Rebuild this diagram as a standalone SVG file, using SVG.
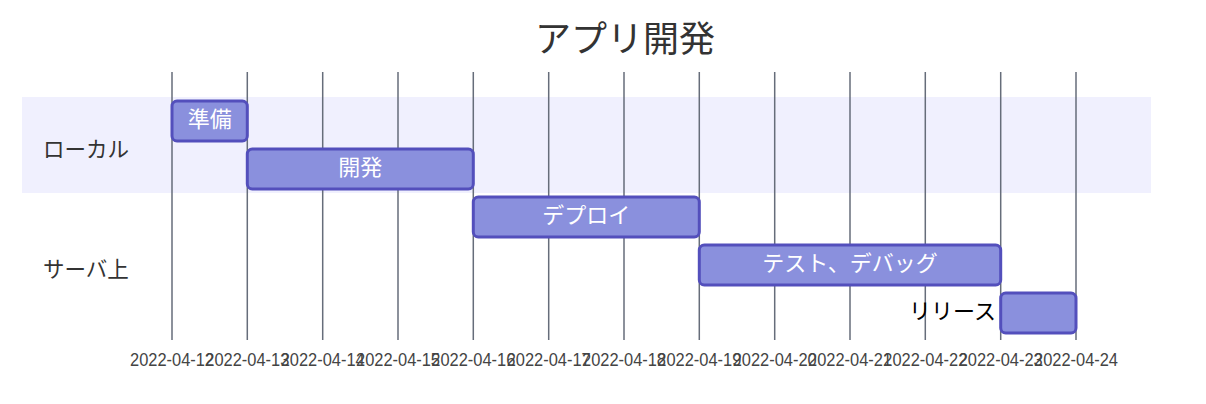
<svg xmlns="http://www.w3.org/2000/svg" width="1206" height="404" viewBox="0 0 1206 404">
<style>
.jp{font-family:"Noto Sans CJK JP","Noto Sans",sans-serif;}
.title{font-size:36px;fill:#333;text-anchor:middle;}
.sec{font-size:21.5px;fill:#333;}
.task{fill:#8a90dd;stroke:#534fbc;stroke-width:3;}
.ttxt{font-size:22px;fill:#fff;text-anchor:middle;}
.otxt{font-size:22px;fill:#000;text-anchor:end;}
.grid line{stroke:#666d7a;stroke-width:1.5;}
.tick{font-family:"Liberation Sans",Arial,sans-serif;font-size:18px;fill:#444;text-anchor:middle;}
</style>
<rect width="1206" height="404" fill="#fff"/>
<g id="sections">
<rect x="22" y="97" width="1129" height="96" fill="#f0f0fe"/>
</g>
<g id="grid" class="grid">
<line x1="172" y1="72" x2="172" y2="340"/>
<line x1="247.3" y1="72" x2="247.3" y2="340"/>
<line x1="322.7" y1="72" x2="322.7" y2="340"/>
<line x1="398" y1="72" x2="398" y2="340"/>
<line x1="473.3" y1="72" x2="473.3" y2="340"/>
<line x1="548.7" y1="72" x2="548.7" y2="340"/>
<line x1="624" y1="72" x2="624" y2="340"/>
<line x1="699.3" y1="72" x2="699.3" y2="340"/>
<line x1="774.7" y1="72" x2="774.7" y2="340"/>
<line x1="850" y1="72" x2="850" y2="340"/>
<line x1="925.3" y1="72" x2="925.3" y2="340"/>
<line x1="1000.7" y1="72" x2="1000.7" y2="340"/>
<line x1="1076" y1="72" x2="1076" y2="340"/>
</g>
<g id="ticks" class="tick">
<text x="172" y="366" textLength="84" lengthAdjust="spacingAndGlyphs">2022-04-12</text>
<text x="247.3" y="366" textLength="84" lengthAdjust="spacingAndGlyphs">2022-04-13</text>
<text x="322.7" y="366" textLength="84" lengthAdjust="spacingAndGlyphs">2022-04-14</text>
<text x="398" y="366" textLength="84" lengthAdjust="spacingAndGlyphs">2022-04-15</text>
<text x="473.3" y="366" textLength="84" lengthAdjust="spacingAndGlyphs">2022-04-16</text>
<text x="548.7" y="366" textLength="84" lengthAdjust="spacingAndGlyphs">2022-04-17</text>
<text x="624" y="366" textLength="84" lengthAdjust="spacingAndGlyphs">2022-04-18</text>
<text x="699.3" y="366" textLength="84" lengthAdjust="spacingAndGlyphs">2022-04-19</text>
<text x="774.7" y="366" textLength="84" lengthAdjust="spacingAndGlyphs">2022-04-20</text>
<text x="850" y="366" textLength="84" lengthAdjust="spacingAndGlyphs">2022-04-21</text>
<text x="925.3" y="366" textLength="84" lengthAdjust="spacingAndGlyphs">2022-04-22</text>
<text x="1000.7" y="366" textLength="84" lengthAdjust="spacingAndGlyphs">2022-04-23</text>
<text x="1076" y="366" textLength="84" lengthAdjust="spacingAndGlyphs">2022-04-24</text>
</g>
<text class="jp title" x="625" y="52">アプリ開発</text>
<text class="jp sec" x="43" y="157">ローカル</text>
<text class="jp sec" x="43" y="277">サーバ上</text>
<g id="task-junbi">
<rect class="task" x="172" y="101" width="75.3" height="40" rx="5"/>
<text class="jp ttxt" x="209.7" y="127">準備</text>
</g>
<g id="task-kaihatsu">
<rect class="task" x="247.3" y="149" width="226" height="40" rx="5"/>
<text class="jp ttxt" x="360.3" y="175">開発</text>
</g>
<g id="task-deploy">
<rect class="task" x="473.3" y="197" width="226" height="40" rx="5"/>
<text class="jp ttxt" x="586.3" y="223">デプロイ</text>
</g>
<g id="task-test">
<rect class="task" x="699.3" y="245" width="301.4" height="40" rx="5"/>
<text class="jp ttxt" x="850" y="271">テスト、デバッグ</text>
</g>
<g id="task-release">
<rect class="task" x="1000.7" y="293" width="75.3" height="40" rx="5"/>
<text class="jp otxt" x="996" y="319">リリース</text>
</g>
<g id="connectors"/>
</svg>
